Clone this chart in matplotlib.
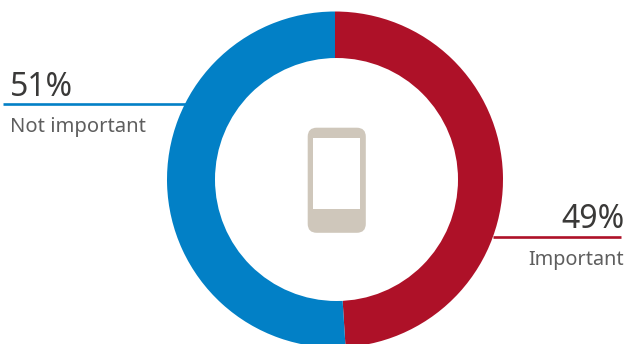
import matplotlib
matplotlib.use("Agg")
import matplotlib.pyplot as plt
from matplotlib.patches import FancyBboxPatch, Rectangle, Circle

shares = [49, 51]
labels = ["Important", "Not important"]
share_text = ["49%", "51%"]
colors = ["#AE1128", "#0280C6"]
W, H = 626, 344

plt.rcParams["font.family"] = ["Noto Sans", "DejaVu Sans"]
fig = plt.figure(figsize=(W / 100, H / 100), dpi=100)
ax = fig.add_axes([0, 0, 1, 1])

# Solid pie, clockwise from twelve o'clock, hollowed out below
ax.pie(shares, colors=colors, startangle=90, counterclock=False,
       center=(335, -179.5), radius=168,
       wedgeprops=dict(linewidth=0), frame=True)
ax.set_xlim(0, W)
ax.set_ylim(-H, 0)
ax.set_aspect("equal")
ax.axis("off")
ax.add_patch(Circle((336.5, -179.5), 121.5, fc="white", ec="none", zorder=2))

# Phone icon in the hole
body = FancyBboxPatch((313.5, -227), 46.5, 93.5, boxstyle="round,pad=5.8,rounding_size=9",
                      fc="#CFC7BB", ec="none", zorder=3)
ax.add_patch(body)
ax.add_patch(Rectangle((313, -209), 47.3, 71.5, fc="white", ec="none", zorder=4))

# Leader lines and captions
ax.plot([3, 186], [-104, -104], color=colors[1], lw=1.9, solid_capstyle="butt", zorder=1)
ax.plot([493, 621], [-236.5, -236.5], color=colors[0], lw=1.9, solid_capstyle="butt", zorder=1)

ink, soft = "#3A3938", "#5E5E5E"
ax.text(9.5, -96, share_text[1], fontsize=23, color=ink, ha="left", va="baseline")
ax.text(10, -132, labels[1], fontsize=14.5, color=soft, ha="left", va="baseline")
ax.text(624.5, -228, share_text[0], fontsize=23, color=ink, ha="right", va="baseline")
ax.text(623.5, -265, labels[0], fontsize=14.3, color=soft, ha="right", va="baseline")

fig.savefig("out.png", dpi=100)
